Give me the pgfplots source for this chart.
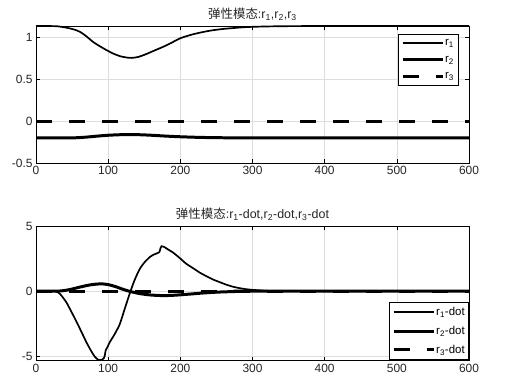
\documentclass[border=0pt]{standalone}
\usepackage{pgfplots}
\pgfplotsset{compat=1.18}
\usepackage{fontspec}
\setmainfont{Liberation Sans}
\newfontfamily\cjk{Noto Sans CJK SC}
\definecolor{gridc}{RGB}{222,222,222}
\definecolor{txt}{RGB}{38,38,38}
\pgfplotsset{
  myax/.style={
    scale only axis, width=433bp,
    xmin=0, xmax=600, xtick={0,100,...,600},
    tick align=inside, tick pos=both,
    major tick length=4bp,
    grid=major, major grid style={gridc, line width=0.5pt},
    axis line style={black, line width=0.6pt},
    tick style={black, line width=0.6pt},
    ticklabel style={font=\fontsize{12}{14}\selectfont, text=txt},
    /pgf/number format/assume math mode=true,
    title style={font=\fontsize{12.5}{14}\selectfont, text=txt, yshift=-4bp},
    legend cell align=left,
    legend style={font=\fontsize{11.5}{13}\selectfont, draw=black, line width=0.6pt, fill=white,
      row sep=5bp, inner sep=3bp, nodes={inner xsep=1bp}},
    legend image code/.code={\draw[#1] (0bp,0bp) -- (40bp,0bp);},
  },
  l1/.style={black, line width=1.7pt},
  l2/.style={black, line width=3pt},
  l3/.style={black, line width=3pt, dash pattern=on 16bp off 17bp},
}
\begin{document}
\begin{tikzpicture}
\path[use as bounding box] (0,0) rectangle (505bp,392bp);
\begin{axis}[myax, at={(36bp,229bp)}, anchor=south west, height=137bp,
  ymin=-0.5, ymax=1.14, ytick={-0.5,0,0.5,1},
  title={{\cjk 弹性模态}:r\textsubscript{1},r\textsubscript{2},r\textsubscript{3}},
  legend style={at={(0.975,0.94)}, anchor=north east}]
\addplot[l1, smooth, tension=0.5] coordinates {(0,1.139) (20,1.139) (30,1.136) (42,1.12) (52,1.10) (61,1.07) (70,1.015) (79,0.95) (88,0.90) (98,0.85) (107,0.81) (116,0.78) (124,0.765) (132,0.758) (142,0.77) (153,0.805) (165,0.85) (176,0.89) (188,0.94) (199,0.99) (213,1.03) (227,1.06) (240,1.082) (250,1.095) (262,1.107) (273,1.115) (286,1.124) (300,1.13) (330,1.136) (380,1.139) (600,1.139)};
\addlegendentry{r\textsubscript{1}}
\addplot[l2, smooth, tension=0.5] coordinates {(0,-0.2) (40,-0.2) (55,-0.198) (70,-0.19) (85,-0.178) (100,-0.168) (115,-0.162) (130,-0.16) (145,-0.162) (160,-0.168) (180,-0.178) (200,-0.186) (225,-0.193) (250,-0.197) (280,-0.199) (320,-0.2) (600,-0.2)};
\addlegendentry{r\textsubscript{2}}
\addplot[l3] coordinates {(0,0) (600,0)};
\addlegendentry{r\textsubscript{3}}
\end{axis}
\begin{axis}[myax, at={(36bp,31.3bp)}, anchor=south west, height=134.7bp,
  ymin=-5.34, ymax=5, ytick={-5,0,5},
  title={{\cjk 弹性模态}:r\textsubscript{1}-dot,r\textsubscript{2}-dot,r\textsubscript{3}-dot},
  legend style={at={(1,0.005)}, anchor=south east}]
\addplot[l1, smooth, tension=0.35] coordinates {(0,0) (26,0) (33,-0.2) (42,-0.85) (52,-1.9) (61,-2.9) (70,-3.94) (76,-4.55) (81,-5.0) (85,-5.22) (88,-5.3) (91,-5.28) (94,-5.15) (95.5,-4.9) (96.5,-4.55) (99,-4.3) (102,-3.94) (109,-3.3) (116,-2.55) (123,-1.35) (131,0) (137,0.9) (144,1.73) (151,2.25) (158,2.63) (163,2.8) (167,2.89) (171,3.0) (172.5,3.3) (174,3.45) (178,3.38) (183,3.2) (190,2.96) (199,2.55) (208,2.11) (218,1.75) (227,1.42) (236,1.15) (245,0.9) (255,0.68) (264,0.49) (273,0.34) (282,0.23) (291,0.15) (300,0.1) (319,0.03) (345,0) (600,0)};
\addlegendentry{r\textsubscript{1}-dot}
\addplot[l2, smooth, tension=0.5] coordinates {(0,0) (30,0) (45,0.1) (60,0.3) (75,0.48) (90,0.56) (100,0.5) (110,0.35) (120,0.15) (130,-0.02) (145,-0.2) (160,-0.3) (175,-0.34) (190,-0.32) (210,-0.24) (230,-0.15) (250,-0.08) (275,-0.03) (300,0) (600,0)};
\addlegendentry{r\textsubscript{2}-dot}
\addplot[l3] coordinates {(0,0) (600,0)};
\addlegendentry{r\textsubscript{3}-dot}
\node[anchor=south west, font=\fontsize{10.5}{11}\selectfont, text=txt, inner sep=0pt] at (rel axis cs:0,1.02) {$\times$10\textsuperscript{-5}};
\end{axis}
\end{tikzpicture}
\end{document}
